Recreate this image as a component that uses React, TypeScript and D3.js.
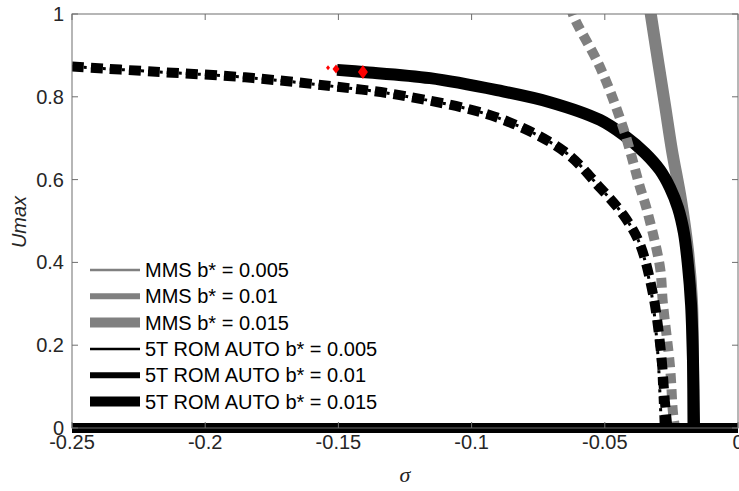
import React, { useEffect, useRef } from 'react';
import * as d3 from 'd3';

// tick values
const xTicks = [-0.25, -0.2, -0.15, -0.1, -0.05, 0];
const yTicks = [0, 0.2, 0.4, 0.6, 0.8, 1];

// MMS, grey curves
const mmsSolidSigma = [-0.0334, -0.0327, -0.0274, -0.0248, -0.0214, -0.0188, -0.0173, -0.0169, -0.0169];
const mmsSolidU = [1.034, 0.998, 0.78, 0.671, 0.551, 0.43, 0.309, 0.164, 0];
const mmsDotSigma = [-0.0625, -0.0619, -0.0518, -0.0432, -0.0368, -0.0342, -0.0293, -0.0282, -0.0255, -0.0244, -0.0236];
const mmsDotU = [1.02, 0.998, 0.872, 0.727, 0.582, 0.527, 0.389, 0.302, 0.147, 0.036, 0];

// 5T ROM AUTO, black curves
const romSolidSigma = [-0.1505, -0.1408, -0.1156, -0.0905, -0.0706, -0.0518, -0.0424, -0.0349, -0.0293, -0.0255, -0.0225, -0.0203, -0.0188, -0.0176, -0.0169, -0.0165];
const romSolidU = [0.865, 0.86, 0.845, 0.816, 0.787, 0.744, 0.705, 0.664, 0.623, 0.58, 0.531, 0.471, 0.394, 0.297, 0.164, 0];
const romDotSigma = [-0.25, -0.22, -0.185, -0.153, -0.127, -0.09, -0.065, -0.052, -0.043, -0.037, -0.032, -0.029, -0.0275, -0.0265];
const romDotU = [0.873, 0.861, 0.847, 0.826, 0.804, 0.749, 0.667, 0.582, 0.514, 0.447, 0.326, 0.188, 0.068, 0];
const romThinSigma = [-0.25, -0.22, -0.185, -0.153, -0.127, -0.09, -0.065, -0.052, -0.043, -0.037, -0.0325, -0.0302, -0.0292, -0.0288];
const romThinU = [0.873, 0.861, 0.847, 0.826, 0.804, 0.749, 0.667, 0.582, 0.514, 0.447, 0.326, 0.188, 0.068, 0];

// trivial branch U = 0
const zeroSigma = [-0.25, 0];
const zeroU = [0, 0];

// red bifurcation markers
const markSigma = [-0.1539, -0.1509, -0.1408];
const markU = [0.87, 0.867, 0.86];
const markHalfW = [2, 3.5, 5];
const markHalfH = [2.5, 4.5, 7];

const legendLabels = [
    'MMS b* = 0.005',
    'MMS b* = 0.01',
    'MMS b* = 0.015',
    '5T ROM AUTO b* = 0.005',
    '5T ROM AUTO b* = 0.01',
    '5T ROM AUTO b* = 0.015',
];

const W = 739;
const H = 491;

export default function App() {
    const ref = useRef<SVGSVGElement>(null);

    useEffect(() => {
        const svg = d3.select(ref.current);
        svg.selectAll('*').remove();

        const left = 72, right = 738, top = 14, bottom = 428;
        const x = d3.scaleLinear().domain([-0.25, 0]).range([left, right]);
        const y = d3.scaleLinear().domain([0, 1]).range([bottom, top]);
        const font = 'Liberation Sans, Arial, sans-serif';
        const fs = 20;

        svg.append('rect').attr('width', W).attr('height', H).attr('fill', '#fff');

        svg.append('clipPath').attr('id', 'plot-clip')
            .append('rect')
            .attr('x', left).attr('y', top)
            .attr('width', right - left).attr('height', bottom - top + 8);

        const line = d3.line<[number, number]>()
            .curve(d3.curveCatmullRom)
            .x(d => x(d[0]))
            .y(d => y(d[1]));

        const zip = (a: number[], b: number[]) => a.map((v, i) => [v, b[i]] as [number, number]);

        const plot = svg.append('g').attr('clip-path', 'url(#plot-clip)');

        const draw = (s: number[], u: number[], color: string, width: number, dash: string | null) => {
            plot.append('path')
                .datum(zip(s, u))
                .attr('fill', 'none')
                .attr('stroke', color)
                .attr('stroke-width', width)
                .attr('stroke-dasharray', dash)
                .attr('d', line);
        };

        // drawing order read from the overlaps
        draw(mmsSolidSigma, mmsSolidU, '#808080', 12, null);
        draw(romSolidSigma, romSolidU, '#000', 12, null);
        draw(mmsDotSigma, mmsDotU, '#808080', 10, '10,6');
        draw(romDotSigma, romDotU, '#000', 10, '12,7');
        draw(romThinSigma, romThinU, '#000', 3, '8,4,3,4');
        draw(zeroSigma, zeroU, '#000', 10, null);

        plot.selectAll('.mark')
            .data(markSigma)
            .enter().append('path')
            .attr('transform', (d, i) => `translate(${x(d)},${y(markU[i])})`)
            .attr('d', (d, i) => `M0,${-markHalfH[i]}L${markHalfW[i]},0L0,${markHalfH[i]}L${-markHalfW[i]},0Z`)
            .attr('fill', '#ff0000');

        // box and ticks
        const axisColor = '#6e6e6e';
        svg.append('rect')
            .attr('x', left).attr('y', top)
            .attr('width', right - left).attr('height', bottom - top)
            .attr('fill', 'none').attr('stroke', axisColor).attr('stroke-width', 1);

        const ticks = svg.append('g').attr('stroke', axisColor).attr('stroke-width', 1);
        xTicks.forEach(t => {
            ticks.append('line').attr('x1', x(t)).attr('x2', x(t)).attr('y1', bottom).attr('y2', bottom - 6);
            ticks.append('line').attr('x1', x(t)).attr('x2', x(t)).attr('y1', top).attr('y2', top + 6);
        });
        yTicks.forEach(t => {
            ticks.append('line').attr('x1', left).attr('x2', left + 6).attr('y1', y(t)).attr('y2', y(t));
            ticks.append('line').attr('x1', right).attr('x2', right - 6).attr('y1', y(t)).attr('y2', y(t));
        });

        svg.selectAll('.xl')
            .data(xTicks)
            .enter().append('text')
            .attr('x', d => x(d))
            .attr('y', bottom + 21)
            .attr('text-anchor', 'middle')
            .attr('font-family', font).attr('font-size', fs).attr('fill', '#262626')
            .text(d => String(d));

        svg.selectAll('.yl')
            .data(yTicks)
            .enter().append('text')
            .attr('x', left - 8)
            .attr('y', d => y(d) + 7)
            .attr('text-anchor', 'end')
            .attr('font-family', font).attr('font-size', fs).attr('fill', '#262626')
            .text(d => String(d));

        svg.append('text')
            .attr('transform', `translate(26,222) rotate(-90)`)
            .attr('text-anchor', 'middle')
            .attr('font-family', font).attr('font-size', fs).attr('font-style', 'italic').attr('fill', '#262626')
            .text('Umax');

        svg.append('text')
            .attr('x', 405).attr('y', 482)
            .attr('text-anchor', 'middle')
            .attr('font-family', 'Liberation Serif, serif').attr('font-size', 22).attr('font-style', 'italic').attr('fill', '#262626')
            .text('σ');

        // legend
        const legendColors = ['#808080', '#808080', '#808080', '#000', '#000', '#000'];
        const legendWidths = [2.5, 6, 10, 2.5, 6, 10];
        const lg = svg.append('g');
        legendLabels.forEach((label, i) => {
            const ly = 270 + i * 26.3;
            lg.append('line')
                .attr('x1', 90).attr('x2', 140).attr('y1', ly).attr('y2', ly)
                .attr('stroke', legendColors[i]).attr('stroke-width', legendWidths[i]);
            lg.append('text')
                .attr('x', 145).attr('y', ly + 7)
                .attr('font-family', font).attr('font-size', fs).attr('fill', '#000')
                .text(label);
        });
    }, []);

    return (
        <svg ref={ref} width={W} height={H} style={{ position: 'absolute', left: 0, top: 0 }} />
    );
}
